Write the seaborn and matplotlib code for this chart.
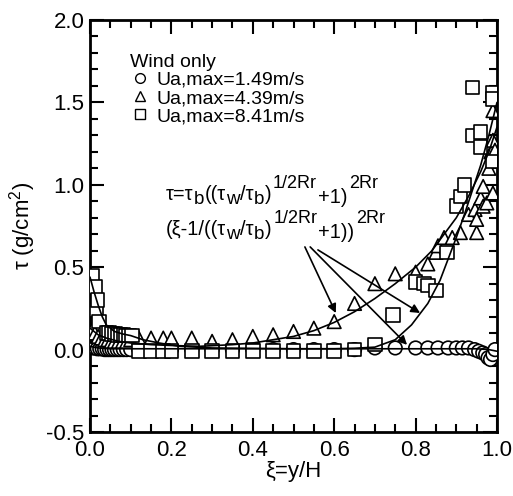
import numpy as np
import pandas as pd
import matplotlib
matplotlib.use("Agg")
import matplotlib.pyplot as plt
import seaborn as sns
from matplotlib.lines import Line2D
from matplotlib.ticker import MultipleLocator, FormatStrFormatter

# ---------------- data ----------------
xi_c = [0.005, 0.012, 0.018, 0.024, 0.03, 0.036, 0.042, 0.048, 0.054, 0.06, 0.067, 0.074,
        0.082, 0.09, 0.1, 0.12, 0.15, 0.18, 0.2, 0.25, 0.3, 0.35, 0.4, 0.45, 0.5, 0.55,
        0.6, 0.65, 0.7, 0.75, 0.8, 0.83, 0.855, 0.88, 0.9, 0.915, 0.93, 0.945, 0.955,
        0.965, 0.972, 0.978, 0.984, 0.99, 0.995]
tau_c = [0.01, 0.01, 0.005, 0.005, 0.005, 0.0, 0.0, 0.0, 0.0, 0.0, 0.0, 0.0,
         0.0, 0.0, 0.0, 0.0, 0.0, 0.0, 0.0, 0.0, 0.0, 0.0, 0.0, 0.0, 0.0, 0.0,
         0.0, 0.0, 0.01, 0.01, 0.01, 0.01, 0.01, 0.01, 0.01, 0.01, 0.01, 0.0, -0.01,
         -0.02, -0.03, -0.05, -0.06, -0.03, 0.0]

xi_t = [0.005, 0.012, 0.02, 0.028, 0.036, 0.044, 0.052, 0.06, 0.07, 0.08, 0.09, 0.1,
        0.12, 0.15, 0.18, 0.2, 0.25, 0.3, 0.35, 0.4, 0.45, 0.5, 0.55, 0.6, 0.65, 0.7,
        0.75, 0.8, 0.83, 0.85, 0.855, 0.87, 0.89, 0.91, 0.93, 0.946, 0.95, 0.95, 0.96,
        0.966, 0.966, 0.975, 0.98, 0.985, 0.99, 0.99, 0.99, 0.995]
tau_t = [0.12, 0.1, 0.08, 0.07, 0.06, 0.06, 0.05, 0.05, 0.05, 0.05, 0.05, 0.06,
         0.07, 0.07, 0.07, 0.07, 0.07, 0.05, 0.06, 0.08, 0.09, 0.11, 0.13, 0.17, 0.28, 0.40,
         0.46, 0.47, 0.52, 0.59, 0.63, 0.68, 0.68, 0.71, 0.82, 0.85, 0.71, 0.79, 0.92,
         0.87, 0.99, 0.89, 1.1, 1.2, 0.95, 1.27, 1.45, 1.21]

xi_s = [0.005, 0.012, 0.016, 0.018, 0.022, 0.04, 0.047, 0.054, 0.061, 0.068, 0.075,
        0.082, 0.089, 0.096, 0.103, 0.12, 0.15, 0.18, 0.2, 0.25, 0.3, 0.35, 0.4, 0.45,
        0.5, 0.55, 0.6, 0.65, 0.7, 0.745, 0.8, 0.82, 0.83, 0.85, 0.877, 0.9, 0.91, 0.92,
        0.94, 0.96, 0.96, 0.99, 0.94, 0.99, 0.99]
tau_s = [0.45, 0.38, 0.24, 0.30, 0.17, 0.10, 0.10, 0.095, 0.095, 0.09, 0.09,
         0.09, 0.085, 0.085, 0.085, -0.01, -0.01, -0.01, -0.01, -0.01, -0.01, -0.01, -0.01, -0.01,
         -0.01, -0.01, -0.01, 0.0, 0.03, 0.21, 0.41, 0.40, 0.39, 0.36, 0.59, 0.87, 0.93, 1.0,
         1.30, 1.32, 1.23, 1.14, 1.59, 1.56, 1.52]

# fitted curves
fit_c_xi = [0.0, 0.02, 0.05, 0.5, 0.95, 0.98, 1.0]
fit_c_tau = [0.02, 0.01, 0.005, 0.005, 0.005, 0.0, -0.01]

fit_t_xi = [0.0, 0.01, 0.02, 0.04, 0.07, 0.1, 0.15, 0.2, 0.27, 0.35, 0.4, 0.45, 0.5, 0.55,
            0.6, 0.65, 0.7, 0.75, 0.8, 0.84, 0.87, 0.9, 0.93, 0.96, 0.98, 1.0]
fit_t_tau = [0.13, 0.11, 0.09, 0.07, 0.05, 0.04, 0.03, 0.025, 0.02, 0.03, 0.04, 0.06, 0.08,
             0.115, 0.165, 0.23, 0.31, 0.40, 0.50, 0.60, 0.70, 0.80, 0.93, 1.08, 1.2, 1.35]

fit_s_xi = [0.0, 0.01, 0.02, 0.03, 0.04, 0.06, 0.08, 0.1, 0.13, 0.17, 0.22, 0.3, 0.5, 0.6,
            0.65, 0.7, 0.75, 0.79, 0.83, 0.86, 0.88, 0.9, 0.92, 0.94, 0.96, 0.98, 1.0]
fit_s_tau = [0.44, 0.35, 0.27, 0.2, 0.15, 0.11, 0.095, 0.085, 0.06, 0.04, 0.02, 0.01, 0.005,
             0.005, 0.008, 0.015, 0.06, 0.15, 0.28, 0.42, 0.55, 0.68, 0.82, 0.97, 1.12, 1.3, 1.5]

labels = ["Ua,max=1.49m/s", "Ua,max=4.39m/s", "Ua,max=8.41m/s"]
markers = ["o", "^", "s"]

# formula annotation: (text piece, role)  role: n=normal, b=subscript, p=superscript, l=lowered
formula_1 = [("τ=τ", "n"), ("b", "b"), ("((τ", "n"), ("w", "b"), ("/τ", "n"), ("b", "b"),
             (")", "n"), ("1/2Rr", "p"), ("+1)", "l"), ("2Rr", "p")]
formula_2 = [("(ξ-1/((τ", "n"), ("w", "b"), ("/τ", "n"), ("b", "b"),
             (")", "n"), ("1/2Rr", "p"), ("+1))", "l"), ("2Rr", "p")]

# arrows: start (xi, tau) -> end (xi, tau)
arrow_start_xi = [0.528, 0.541, 0.560]
arrow_start_tau = [0.623, 0.623, 0.605]
arrow_end_xi = [0.604, 0.779, 0.811]
arrow_end_tau = [0.222, 0.029, 0.222]

# ---------------- style ----------------
sns.set_theme(style="ticks")
plt.rcParams["font.family"] = ["Liberation Sans", "DejaVu Sans"]
plt.rcParams["mathtext.fontset"] = "custom"
plt.rcParams["mathtext.rm"] = "Liberation Sans"
plt.rcParams["mathtext.it"] = "Liberation Sans"
plt.rcParams["mathtext.bf"] = "Liberation Sans:bold"
plt.rcParams["mathtext.sf"] = "Liberation Sans"
for k in ["text.color", "axes.labelcolor", "xtick.color", "ytick.color", "axes.edgecolor"]:
    plt.rcParams[k] = "black"

fig = plt.figure(figsize=(5.13, 4.96), dpi=100)
ax = fig.add_axes([90 / 513, 1 - 432 / 496, 407 / 513, 412 / 496])

df = pd.concat([
    pd.DataFrame({"xi": xi_c, "tau": tau_c, "series": labels[0]}),
    pd.DataFrame({"xi": xi_t, "tau": tau_t, "series": labels[1]}),
    pd.DataFrame({"xi": xi_s, "tau": tau_s, "series": labels[2]}),
], ignore_index=True)

sns.scatterplot(data=df, x="xi", y="tau", style="series", markers=dict(zip(labels, markers)),
                color="white", edgecolor="black", linewidth=1.2, s=95, legend=False,
                ax=ax, zorder=3)

for fx, fy in [(fit_c_xi, fit_c_tau), (fit_t_xi, fit_t_tau), (fit_s_xi, fit_s_tau)]:
    sns.lineplot(x=fx, y=fy, sort=False, color="black", lw=1.2, ax=ax, zorder=4)

for sx, sy, ex, ey in zip(arrow_start_xi, arrow_start_tau, arrow_end_xi, arrow_end_tau):
    ax.annotate("", xy=(ex, ey), xytext=(sx, sy),
                arrowprops=dict(arrowstyle="-|>", color="black", lw=1.2,
                                mutation_scale=13, shrinkA=0, shrinkB=0), zorder=5)

role_size = {"n": 14.5, "b": 13.5, "p": 13, "l": 14.5}
role_dy = {"n": 0, "b": -3.0, "p": 8.5, "l": -2.0}
role_gap = {"n": 0.4, "b": 0.2, "p": 1.2, "l": 0.6}


def draw_formula(pieces, x0, y0):
    prev = ax.text(x0, y0, "", fontsize=14, ha="left", va="baseline")
    for txt, role in pieces:
        prev = ax.annotate(txt, xy=(1, y0), xycoords=(prev, "data"),
                           xytext=(role_gap[role], role_dy[role]), textcoords="offset points",
                           fontsize=role_size[role], ha="left", va="baseline")


draw_formula(formula_1, 0.185, 0.907)
draw_formula(formula_2, 0.185, 0.695)

handles = [Line2D([], [], linestyle="none", marker=m, markerfacecolor="white",
                  markeredgecolor="black", markeredgewidth=1.0, markersize=7)
           for m in markers]
leg = ax.legend(handles, labels, title="Wind only", loc="upper left",
                bbox_to_anchor=(0.075, 0.942), frameon=False, fontsize=14,
                title_fontsize=14, handletextpad=0.35, labelspacing=0.03,
                borderpad=0.0, handlelength=1.0, alignment="left")

ax.set_xlim(0, 1.0)
ax.set_ylim(-0.5, 2.0)
ax.xaxis.set_major_locator(MultipleLocator(0.2))
ax.xaxis.set_minor_locator(MultipleLocator(0.05))
ax.yaxis.set_major_locator(MultipleLocator(0.5))
ax.yaxis.set_minor_locator(MultipleLocator(0.1))
ax.xaxis.set_major_formatter(FormatStrFormatter("%.1f"))
ax.yaxis.set_major_formatter(FormatStrFormatter("%.1f"))
ax.tick_params(which="both", direction="in", top=True, right=True, color="black",
               labelcolor="black", labelsize=16, width=1.5)
ax.tick_params(axis="y", which="major", length=10, pad=4)
ax.tick_params(axis="x", which="major", length=10, pad=6)
ax.tick_params(which="minor", length=6)
for sp in ax.spines.values():
    sp.set_linewidth(2)
    sp.set_color("black")

ax.set_xlabel("ξ=y/H", fontsize=16, labelpad=0)
ax.set_ylabel(r"$\tau$ (g/cm$^2$)", fontsize=16, labelpad=6)

fig.savefig("out.png", dpi=100)
